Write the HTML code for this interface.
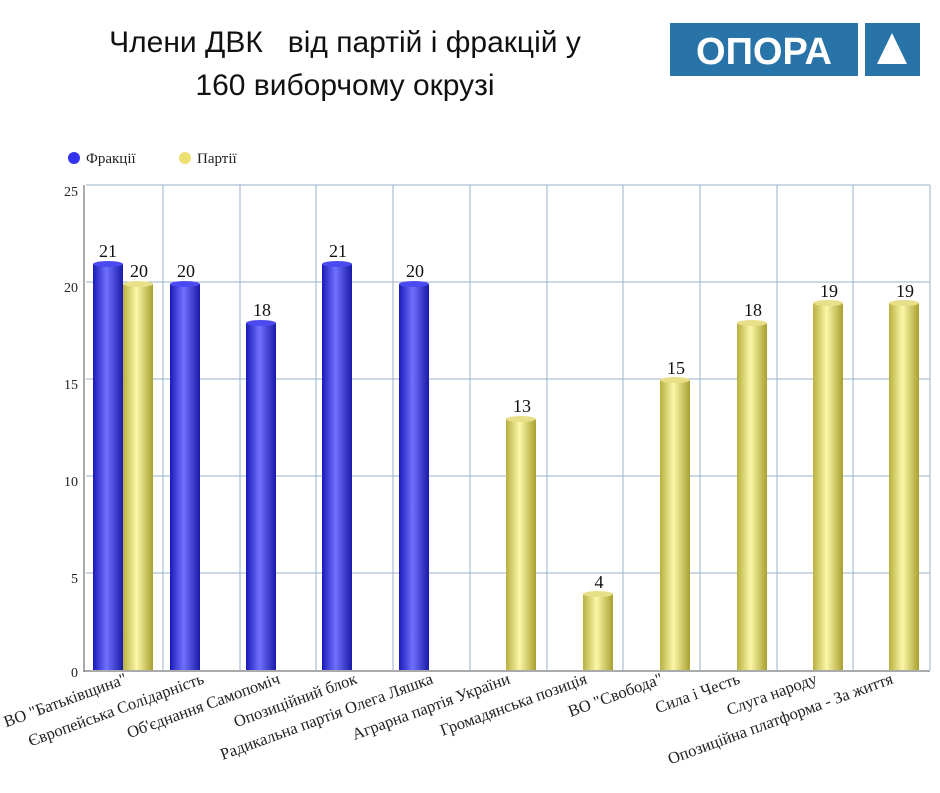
<!DOCTYPE html>
<html><head><meta charset="utf-8"><style>
body{margin:0;background:#fff;width:940px;height:788px;overflow:hidden}
</style></head><body>
<svg width="940" height="788" xmlns="http://www.w3.org/2000/svg">
<defs>
<linearGradient id="b" x1="0" x2="1"><stop offset="0" stop-color="#1a1ab8"/><stop offset="0.45" stop-color="#7070ff"/><stop offset="1" stop-color="#1a1aa8"/></linearGradient>
<linearGradient id="y" x1="0" x2="1"><stop offset="0" stop-color="#b8b040"/><stop offset="0.45" stop-color="#fbf7a8"/><stop offset="1" stop-color="#a8a030"/></linearGradient>
</defs>
<g font-family="Liberation Sans, sans-serif" font-size="30" fill="#111" text-anchor="middle">
<text x="345" y="52" xml:space="preserve">Члени ДВК   від партій і фракцій у</text>
<text x="345" y="95">160 виборчому окрузі</text>
</g>
<rect x="670" y="23" width="188" height="53" fill="#2873a8"/>
<text x="764" y="64" font-family="Liberation Sans, sans-serif" font-weight="bold" font-size="38" fill="#fff" text-anchor="middle">ОПОРА</text>
<rect x="865" y="23" width="55" height="53" fill="#2873a8"/>
<polygon points="892,33 907,64 877,64" fill="#fff"/>
<g font-family="Liberation Serif, serif" font-size="15" fill="#222">
<circle cx="74" cy="158" r="6" fill="#3333ee"/><text x="86" y="163">Фракції</text>
<circle cx="185" cy="158" r="6" fill="#eee070"/><text x="197" y="163">Партії</text>
</g>
<g stroke="#9ab0c8" stroke-width="1">
<line x1="86" y1="185" x2="930" y2="185"/><line x1="86" y1="282" x2="930" y2="282"/><line x1="86" y1="379" x2="930" y2="379"/><line x1="86" y1="476" x2="930" y2="476"/><line x1="86" y1="573" x2="930" y2="573"/>
<line x1="163" y1="185" x2="163" y2="670"/><line x1="240" y1="185" x2="240" y2="670"/><line x1="316" y1="185" x2="316" y2="670"/><line x1="393" y1="185" x2="393" y2="670"/><line x1="470" y1="185" x2="470" y2="670"/><line x1="547" y1="185" x2="547" y2="670"/><line x1="623" y1="185" x2="623" y2="670"/><line x1="700" y1="185" x2="700" y2="670"/><line x1="777" y1="185" x2="777" y2="670"/><line x1="853" y1="185" x2="853" y2="670"/><line x1="930" y1="185" x2="930" y2="670"/>
</g>
<line x1="84" y1="185" x2="84" y2="672" stroke="#555"/>
<line x1="84" y1="671" x2="930" y2="671" stroke="#555"/>
<g font-family="Liberation Serif, serif" font-size="14" fill="#222" text-anchor="end">
<text x="78" y="196">25</text><text x="78" y="292">20</text><text x="78" y="389">15</text><text x="78" y="486">10</text><text x="78" y="583">5</text><text x="78" y="677">0</text>
</g>
<g>
<rect x="93" y="264" width="30" height="406" fill="url(#b)"/><ellipse cx="108" cy="264" rx="15" ry="3" fill="#4a4af0"/>
<rect x="123" y="284" width="30" height="386" fill="url(#y)"/><ellipse cx="138" cy="284" rx="15" ry="3" fill="#e8e088"/>
<rect x="170" y="284" width="30" height="386" fill="url(#b)"/><ellipse cx="185" cy="284" rx="15" ry="3" fill="#4a4af0"/>
<rect x="246" y="323" width="30" height="347" fill="url(#b)"/><ellipse cx="261" cy="323" rx="15" ry="3" fill="#4a4af0"/>
<rect x="322" y="264" width="30" height="406" fill="url(#b)"/><ellipse cx="337" cy="264" rx="15" ry="3" fill="#4a4af0"/>
<rect x="399" y="284" width="30" height="386" fill="url(#b)"/><ellipse cx="414" cy="284" rx="15" ry="3" fill="#4a4af0"/>
<rect x="506" y="419" width="30" height="251" fill="url(#y)"/><ellipse cx="521" cy="419" rx="15" ry="3" fill="#e8e088"/>
<rect x="583" y="594" width="30" height="76" fill="url(#y)"/><ellipse cx="598" cy="594" rx="15" ry="3" fill="#e8e088"/>
<rect x="660" y="380" width="30" height="290" fill="url(#y)"/><ellipse cx="675" cy="380" rx="15" ry="3" fill="#e8e088"/>
<rect x="737" y="323" width="30" height="347" fill="url(#y)"/><ellipse cx="752" cy="323" rx="15" ry="3" fill="#e8e088"/>
<rect x="813" y="303" width="30" height="367" fill="url(#y)"/><ellipse cx="828" cy="303" rx="15" ry="3" fill="#e8e088"/>
<rect x="889" y="303" width="30" height="367" fill="url(#y)"/><ellipse cx="904" cy="303" rx="15" ry="3" fill="#e8e088"/>
</g>
<g font-family="Liberation Serif, serif" font-size="18" fill="#111" text-anchor="middle">
<text x="108" y="257">21</text><text x="139" y="277">20</text><text x="186" y="277">20</text><text x="262" y="316">18</text><text x="338" y="257">21</text><text x="415" y="277">20</text>
<text x="522" y="412">13</text><text x="599" y="588">4</text><text x="676" y="374">15</text><text x="753" y="316">18</text><text x="829" y="297">19</text><text x="905" y="297">19</text>
</g>
<g font-family="Liberation Serif, serif" font-size="16.5" fill="#222" text-anchor="end">
<text transform="translate(128,683) rotate(-20)">ВО "Батьківщина"</text>
<text transform="translate(205,683) rotate(-20)">Європейська Солідарність</text>
<text transform="translate(281,683) rotate(-20)">Об'єднання Самопоміч</text>
<text transform="translate(358,683) rotate(-20)">Опозиційний блок</text>
<text transform="translate(434,683) rotate(-20)">Радикальна партія Олега Ляшка</text>
<text transform="translate(511,683) rotate(-20)">Аграрна партія України</text>
<text transform="translate(588,683) rotate(-20)">Громадянська позиція</text>
<text transform="translate(664,683) rotate(-20)">ВО "Свобода"</text>
<text transform="translate(741,683) rotate(-20)">Сила і Честь</text>
<text transform="translate(818,683) rotate(-20)">Слуга народу</text>
<text transform="translate(894,683) rotate(-20)">Опозиційна платформа - За життя</text>
</g>
</svg>
</body></html>
